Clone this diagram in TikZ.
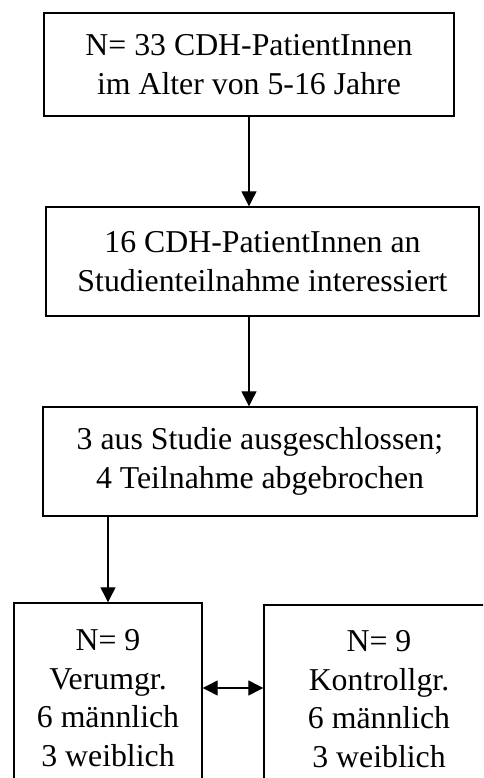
\documentclass[tikz,border=0pt]{standalone}
\usepackage{fontspec}
\setmainfont{Liberation Serif}
\usetikzlibrary{arrows.meta}
\begin{document}
\begin{tikzpicture}[x=1pt,y=-1pt,
  box/.style={draw=black, line width=1.4pt, align=center, inner sep=0pt,
    font=\fontsize{31.8}{38.5}\selectfont},
  arr/.style={line width=1.2pt, -{Triangle[length=15pt,width=15pt]}},
  darr/.style={line width=1.2pt, {Triangle[length=15pt,width=15pt]}-{Triangle[length=15pt,width=15pt]}}]
\useasboundingbox (0,0) rectangle (483,778);
\clip (0,0) rectangle (483,778);
\node[box, minimum width=410pt, minimum height=103pt] (b1) at (249,64.5)
  {N= 33 CDH-PatientInnen\\im Alter von 5-16 Jahre};
\node[box, minimum width=433pt, minimum height=109pt] (b2) at (262.5,261.5)
  {16 CDH-PatientInnen an\\Studienteilnahme interessiert};
\node[box, minimum width=434pt, minimum height=109pt] (b3) at (260,461.5)
  {3 aus Studie ausgeschlossen;\\4 Teilnahme abgebrochen};
\node[box, minimum width=188pt, minimum height=190pt] (b4) at (108,698)
  {N= 9\\Verumgr.\\6 männlich\\3 weiblich};
\node[box, minimum width=230pt, minimum height=188pt] (b5) at (379,699)
  {N= 9\\Kontrollgr.\\6 männlich\\3 weiblich};
\draw[arr] (b1.south) -- (b1.south |- b2.north);
\draw[arr] (b1.south |- b2.south) -- (b1.south |- b3.north);
\draw[arr] (b4.north |- b3.south) -- (b4.north);
\draw[darr] (b4.east |- 0,688) -- (b5.west |- 0,688);
\end{tikzpicture}
\end{document}
